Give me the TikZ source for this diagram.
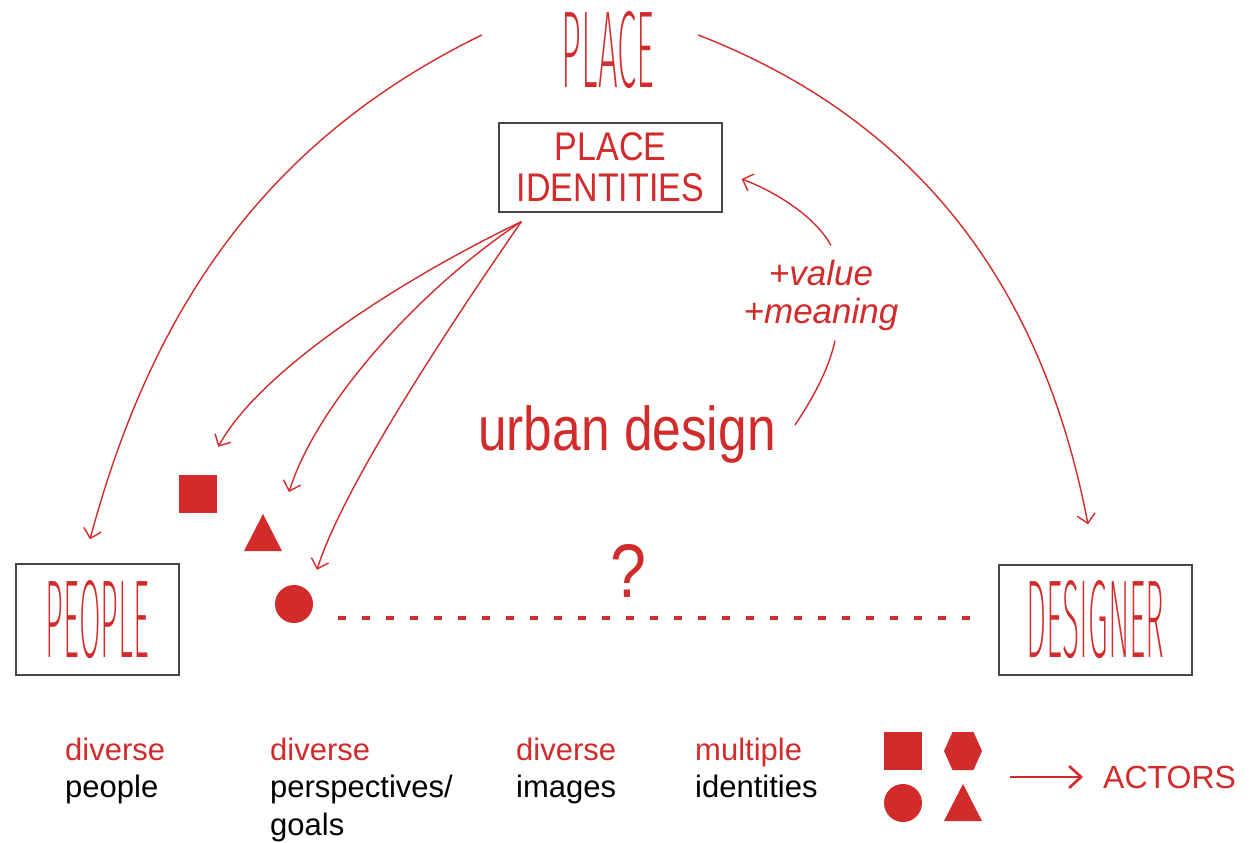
\documentclass[tikz,border=0pt]{standalone}
\usepackage{fontspec}
\setmainfont{Liberation Sans}
\newfontfamily\condfont{Fira Sans ExtraLight}
\usetikzlibrary{arrows.meta,calc}
\definecolor{dred}{RGB}{210,43,43}
\definecolor{boxgray}{RGB}{70,70,70}
\begin{document}
\begin{tikzpicture}[x=1pt,y=-1pt,
  framebox/.style={draw=boxgray,line width=1.3pt,inner sep=0pt},
  conn/.style={draw=dred,line width=1.4pt,-{Straight Barb[length=9pt,width=18pt]}},
  plainline/.style={draw=dred,line width=1.4pt},
  bigarrow/.style={draw=dred,line width=2.6pt,-{Straight Barb[length=12pt,width=22pt]}},
  dashline/.style={draw=dred,line width=3.3pt,dash pattern=on 8pt off 16pt},
  redtext/.style={text=dred,inner sep=0pt},
  bottomtext/.style={anchor=base west,inner sep=0pt,font=\fontsize{31pt}{31pt}\selectfont},
  shapefill/.style={fill=dred,inner sep=0pt,draw=none}]
\path[use as bounding box,fill=white] (0,0) rectangle (1256,843);

% main text nodes
\node[redtext] (place) at (608,50) {\resizebox{92pt}{76pt}{\condfont PLACE}};
\node[framebox,minimum width=163pt,minimum height=111pt,text=dred] (people) at (97.5,619.5) {\resizebox{103pt}{77pt}{\condfont PEOPLE}};
\node[framebox,minimum width=193pt,minimum height=110pt,text=dred] (designer) at (1095.5,620) {\resizebox{138pt}{77pt}{\condfont DESIGNER}};
\node[framebox,minimum width=223pt,minimum height=89pt,text=dred,align=center,font=\fontsize{40pt}{41pt}\selectfont] (pi) at (610.5,167.5) {\scalebox{0.85}[1]{PLACE}\\\scalebox{0.85}[1]{IDENTITIES}};
\node[redtext,anchor=base west,font=\fontsize{62pt}{62pt}\selectfont] (ud) at (478,450) {\scalebox{0.83}[1]{urban design}};
\node[redtext,align=center,font=\fontsize{35pt}{38pt}\selectfont\itshape] (lbl) at (821,295) {+value\\+meaning};
\node[redtext,anchor=base,font=\fontsize{76pt}{76pt}\selectfont] (q) at (628,597) {\scalebox{0.85}[1]{?}};

% actor shapes near people
\node[shapefill,minimum size=38pt] (sq) at (198,494) {};
\fill[dred] (263,514) -- (282,551) -- (244,551) -- cycle;
\coordinate (tri) at (263,514);
\node[shapefill,circle,minimum size=38pt] (circ) at (294,604) {};

% connectors
\draw[conn] ($(place.west)+(-80,-15)$) .. controls (275,136) and (155,297) .. ($(people.north)+(-7.5,-24)$);
\draw[conn] ($(place.east)+(44,-15)$) .. controls (930,125) and (1045,300) .. ($(designer.north)+(-7.5,-40)$);
\draw[conn] ($(pi.south west)+(23,9)$) .. controls (402,279) and (260,370) .. ($(sq.north east)+(1,-28)$);
\draw[conn] ($(pi.south west)+(23,9)$) .. controls (425,285) and (318,400) .. ($(tri)+(26,-22)$);
\draw[conn] ($(pi.south west)+(23,9)$) .. controls (470,296) and (345,480) .. ($(circ.north)+(23,-15)$);
\draw[plainline] ($(ud.east)+(19,-9)$) .. controls (812,400) and (829,369) .. ($(lbl.south)+(14,10)$);
\draw[conn] ($(lbl.north)+(10,-14)$) .. controls (815,216) and (774,191) .. ($(pi.east)+(19,11.5)$);
\draw[dashline] ($(circ.east)+(25,14)$) -- ($(designer.west)+(-27,-2)$);

% bottom labels
\node[bottomtext,text=dred] (c1a) at (65,760) {diverse};
\node[bottomtext] (c1b) at (65,797) {people};
\node[bottomtext,text=dred] (c2a) at (270,760) {diverse};
\node[bottomtext] (c2b) at (270,797) {perspectives/};
\node[bottomtext] (c2c) at (270,835) {goals};
\node[bottomtext,text=dred] (c3a) at (516,760) {diverse};
\node[bottomtext] (c3b) at (516,797) {images};
\node[bottomtext,text=dred] (c4a) at (695,760) {multiple};
\node[bottomtext] (c4b) at (695,797) {identities};

% legend
\node[shapefill,minimum size=38pt] (lsq) at (903,751) {};
\fill[dred] (944,751) -- (952.5,732) -- (973.5,732) -- (982,751) -- (973.5,770) -- (952.5,770) -- cycle;
\node[shapefill,circle,minimum size=38pt] (lci) at (903,803) {};
\fill[dred] (963,784) -- (982,821) -- (944,821) -- cycle;
\node[redtext,anchor=base west,font=\fontsize{32pt}{32pt}\selectfont] (actors) at (1103,788) {ACTORS};
\draw[bigarrow] ($(actors.west)+(-93,0)$) -- ($(actors.west)+(-20,0)$);
\end{tikzpicture}
\end{document}
